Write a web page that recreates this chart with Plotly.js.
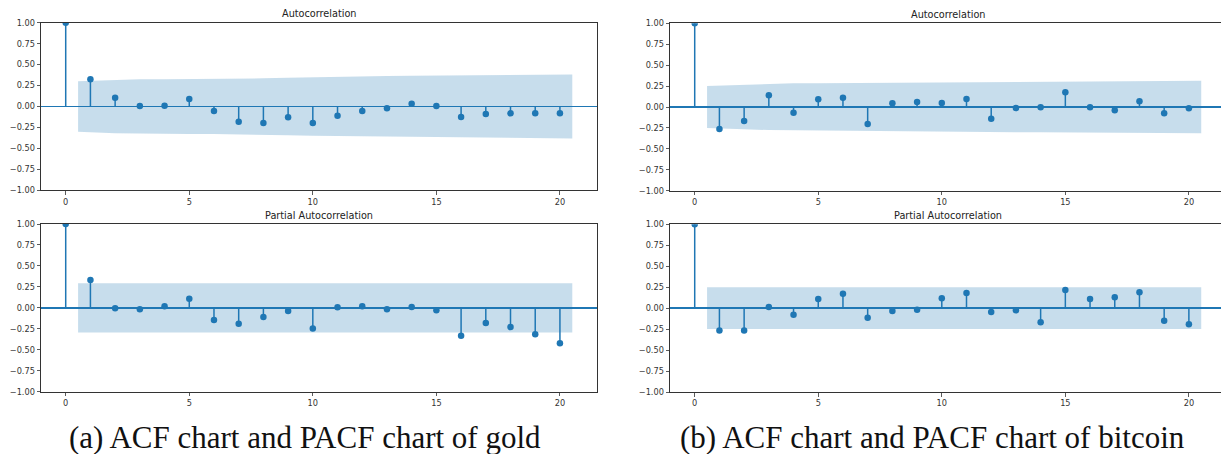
<!DOCTYPE html>
<html>
<head>
<meta charset="utf-8">
<script src="https://cdn.plot.ly/plotly-3.0.1.min.js"></script>
<style>html,body{margin:0;padding:0;background:#fff;}#chart{width:1221px;height:454px;}</style>
</head>
<body>
<div id="chart"></div>
<script>
// Lags 0..20
const lags = [0,1,2,3,4,5,6,7,8,9,10,11,12,13,14,15,16,17,18,19,20];

// Gold
const goldAcf  = [1.00, 0.324, 0.105, 0.006, 0.010, 0.089, -0.054, -0.181, -0.197, -0.129, -0.197, -0.109, -0.054, -0.022, 0.034, 0.006, -0.125, -0.089, -0.082, -0.082, -0.082];
const goldAcfBand = [0.296, 0.300, 0.318, 0.324, 0.326, 0.327, 0.329, 0.331, 0.336, 0.344, 0.350, 0.357, 0.360, 0.364, 0.366, 0.367, 0.370, 0.372, 0.375, 0.377, 0.381];
const goldPacf = [1.00, 0.332, -0.006, -0.018, 0.018, 0.109, -0.145, -0.189, -0.109, -0.038, -0.245, 0.006, 0.018, -0.018, 0.010, -0.030, -0.332, -0.181, -0.229, -0.316, -0.423];
const goldPacfBand = [0.294, 0.294, 0.294, 0.294, 0.294, 0.294, 0.294, 0.294, 0.294, 0.294, 0.294, 0.294, 0.294, 0.294, 0.294, 0.294, 0.294, 0.294, 0.294, 0.294, 0.294];

// Bitcoin
const btcAcf  = [1.00, -0.263, -0.167, 0.139, -0.068, 0.092, 0.112, -0.203, 0.044, 0.060, 0.048, 0.096, -0.139, -0.012, -0.004, 0.175, -0.004, -0.040, 0.068, -0.076, -0.016];
const btcAcfBand = [0.250, 0.252, 0.266, 0.276, 0.283, 0.284, 0.286, 0.288, 0.295, 0.296, 0.297, 0.298, 0.300, 0.303, 0.303, 0.303, 0.307, 0.307, 0.308, 0.309, 0.313];
const btcPacf = [1.00, -0.268, -0.268, 0.014, -0.078, 0.109, 0.173, -0.113, -0.034, -0.018, 0.117, 0.181, -0.046, -0.026, -0.169, 0.217, 0.109, 0.129, 0.189, -0.149, -0.193];
const btcPacfBand = [0.250, 0.250, 0.250, 0.250, 0.250, 0.250, 0.250, 0.250, 0.250, 0.250, 0.250, 0.250, 0.250, 0.250, 0.250, 0.250, 0.250, 0.250, 0.250, 0.250, 0.250];

const yTicks = [-1, -0.75, -0.5, -0.25, 0, 0.25, 0.5, 0.75, 1];
const xTicks = [0, 5, 10, 15, 20];
const panelTitles = ["Autocorrelation", "Partial Autocorrelation"];
const captions = ["(a) ACF chart and PACF chart of gold", "(b) ACF chart and PACF chart of bitcoin"];

const BLUE = '#1f77b4';
const W = 1221, H = 454;

function bandTraces(band, xa, ya) {
  // band drawn from lag 0.5 to lag 20.5 (skipping lag 0), as statsmodels does
  const bx = lags.slice(1).map((v, i, a) => i === 0 ? v - 0.5 : (i === a.length - 1 ? v + 0.5 : v));
  const bu = band.slice(1);
  const xs = bx.concat(bx.slice().reverse());
  const ys = bu.concat(bu.slice().reverse().map(v => -v));
  return {
    x: xs, y: ys, xaxis: xa, yaxis: ya, type: 'scatter', mode: 'lines',
    fill: 'toself', fillcolor: 'rgba(31,119,180,0.25)', line: {width: 0, color: 'rgba(31,119,180,0)'},
    hoverinfo: 'skip', showlegend: false
  };
}
function stemTraces(vals, xa, ya) {
  const sx = [], sy = [];
  lags.forEach((k, i) => { sx.push(k, k, null); sy.push(0, vals[i], null); });
  return [
    {x: sx, y: sy, xaxis: xa, yaxis: ya, type: 'scatter', mode: 'lines',
     line: {color: BLUE, width: 1.5}, hoverinfo: 'skip', showlegend: false},
    {x: lags, y: vals, xaxis: xa, yaxis: ya, type: 'scatter', mode: 'markers',
     marker: {color: BLUE, size: 6.5}, showlegend: false}
  ];
}

const panels = [
  {vals: goldAcf,  band: goldAcfBand,  xa: 'x',  ya: 'y',  title: panelTitles[0]},
  {vals: goldPacf, band: goldPacfBand, xa: 'x2', ya: 'y2', title: panelTitles[1]},
  {vals: btcAcf,   band: btcAcfBand,   xa: 'x3', ya: 'y3', title: panelTitles[0]},
  {vals: btcPacf,  band: btcPacfBand,  xa: 'x4', ya: 'y4', title: panelTitles[1]}
];

// pixel geometry -> paper fractions
const px = (p) => p / W;
const py = (p) => (H - p) / H;
const geom = [
  {x0: 41, x1: 597, y0: 22.7, y1: 190.3, range: [-1, 21.5]},
  {x0: 41, x1: 597, y0: 224, y1: 391.7, range: [-1, 21.5]},
  {x0: 670, x1: 1221, y0: 23.3, y1: 190.7, range: [-1, 21.3]},
  {x0: 670, x1: 1221, y0: 224.3, y1: 392, range: [-1, 21.3]}
];

const data = [];
panels.forEach(p => { data.push(bandTraces(p.band, p.xa, p.ya)); data.push(...stemTraces(p.vals, p.xa, p.ya)); });

const layout = {
  width: W, height: H,
  margin: {l: 0, r: 0, t: 0, b: 0},
  paper_bgcolor: '#ffffff', plot_bgcolor: '#ffffff',
  showlegend: false,
  font: {family: 'DejaVu Sans', size: 8, color: '#333'},
  annotations: [], shapes: []
};

geom.forEach((g, i) => {
  const n = i === 0 ? '' : String(i + 1);
  const yname = 'y' + n;
  layout['xaxis' + n] = {
    domain: [px(g.x0), px(g.x1)], range: g.range, anchor: yname,
    tickmode: 'array', tickvals: xTicks, ticktext: xTicks.map(String),
    ticks: 'outside', ticklen: 3.5, tickwidth: 0.8, tickcolor: '#333',
    showline: true, linecolor: '#333', linewidth: 1, mirror: true,
    showgrid: false, zeroline: false, fixedrange: true,
    tickfont: {family: 'DejaVu Sans', size: 8.2, color: '#333'}
  };
  layout['yaxis' + n] = {
    domain: [py(g.y1), py(g.y0)], range: [-1, 1], anchor: 'x' + n,
    tickmode: 'array', tickvals: yTicks, tickformat: '.2f',
    ticks: 'outside', ticklen: 3.5, tickwidth: 0.8, tickcolor: '#333',
    showline: true, linecolor: '#333', linewidth: 1, mirror: true,
    showgrid: false, zeroline: true, zerolinecolor: BLUE, zerolinewidth: 1.5,
    fixedrange: true,
    tickfont: {family: 'DejaVu Sans', size: 8.2, color: '#333'}
  };
  layout.annotations.push({
    text: panels[i].title, xref: 'paper', yref: 'paper',
    x: px((g.x0 + (i >= 2 ? 1225 : g.x1)) / 2), y: py(g.y0 - 1.5), xanchor: 'center', yanchor: 'bottom',
    showarrow: false, font: {family: 'DejaVu Sans', size: 9.7, color: '#222'}
  });
});

layout.annotations.push({
  text: captions[0], xref: 'paper', yref: 'paper', x: px(305), y: py(437),
  xanchor: 'center', yanchor: 'middle', showarrow: false,
  font: {family: 'Liberation Serif', size: 31, color: '#111'}
});
layout.annotations.push({
  text: captions[1], xref: 'paper', yref: 'paper', x: px(932), y: py(437),
  xanchor: 'center', yanchor: 'middle', showarrow: false,
  font: {family: 'Liberation Serif', size: 31, color: '#111'}
});

Plotly.newPlot('chart', data, layout, {staticPlot: true, displayModeBar: false});
</script>
</body>
</html>
